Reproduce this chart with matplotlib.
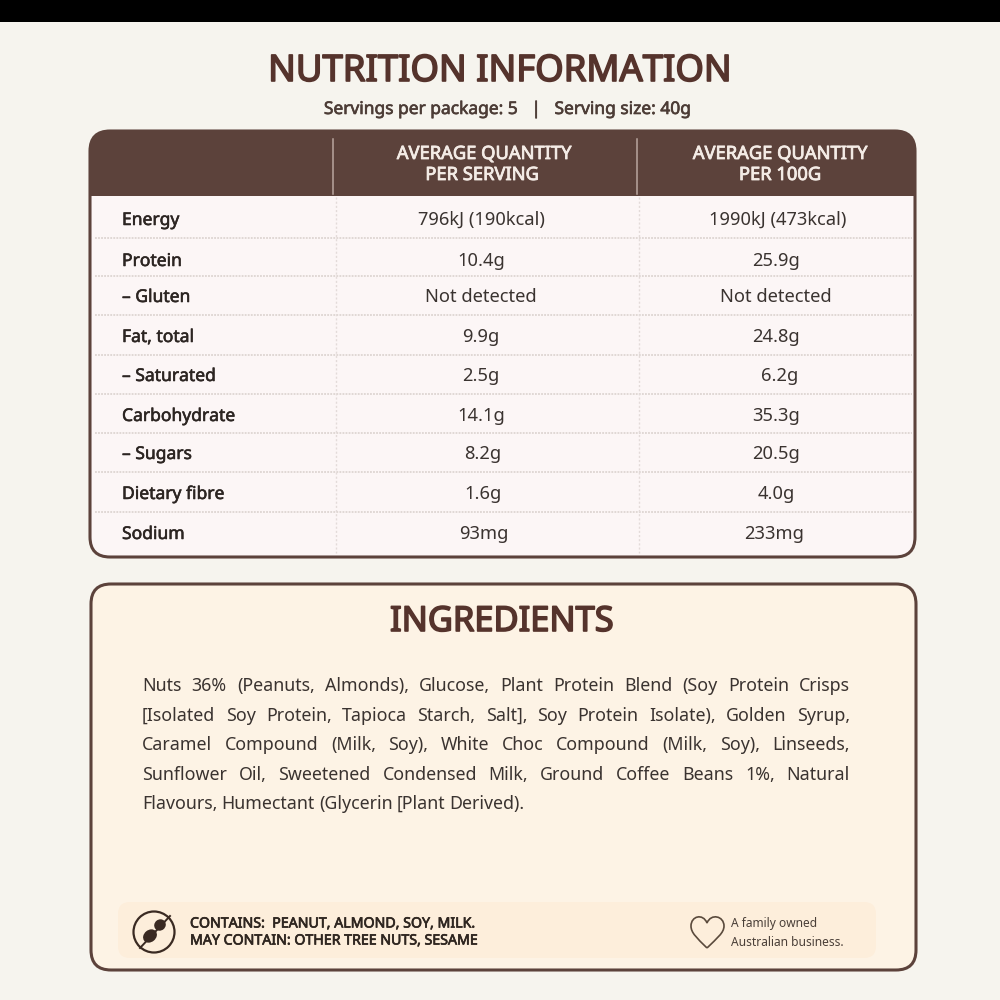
#!/usr/bin/env python3
"""Nutrition information panel, laid out in image pixel coordinates."""
import matplotlib
matplotlib.use("Agg")
import matplotlib.pyplot as plt
import matplotlib.patheffects as pe
from matplotlib.patches import FancyBboxPatch, Rectangle, Circle, Ellipse, PathPatch
from matplotlib.path import Path

plt.rcParams["font.family"] = ["Noto Sans", "DejaVu Sans"]

BROWN = "#5c423b"
TITLE = "#55332c"
INK = "#2c2522"
PAGE = "#f6f4ee"
# Noto Sans only comes in one weight here, so bold text gets a thin outline
HEAVY = [pe.withStroke(linewidth=1.2, foreground=TITLE)]
MEDIUM = [pe.withStroke(linewidth=0.4, foreground=INK)]
LIGHT = [pe.withStroke(linewidth=0.6, foreground="#f4ece6")]

rows = ["Energy", "Protein", "– Gluten", "Fat, total", "– Saturated",
        "Carbohydrate", "– Sugars", "Dietary fibre", "Sodium"]
per_serving = ["796kJ (190kcal)", "10.4g", "Not detected", "9.9g", "2.5g",
               "14.1g", "8.2g", "1.6g", "93mg"]
per_100g = ["1990kJ (473kcal)", "25.9g", "Not detected", "24.8g", "6.2g",
            "35.3g", "20.5g", "4.0g", "233mg"]
ingredient_lines = [
    "Nuts 36% (Peanuts, Almonds), Glucose, Plant Protein Blend (Soy Protein Crisps",
    "[Isolated Soy Protein, Tapioca Starch, Salt], Soy Protein Isolate), Golden Syrup,",
    "Caramel Compound (Milk, Soy), White Choc Compound (Milk, Soy), Linseeds,",
    "Sunflower Oil, Sweetened Condensed Milk, Ground Coffee Beans 1%, Natural",
    "Flavours, Humectant (Glycerin [Plant Derived).",
]

row_y = [220, 261, 297, 337, 376, 416, 454, 494, 534]
rule_y = [238, 276, 315, 355, 394, 433, 472, 512]
serving_x = [481, 481, 481, 481, 481, 481, 483, 483, 484]
hundred_x = [778, 776, 776, 776, 780, 776, 776, 776, 774]
line_y = [686, 716, 745, 775, 804]

fig = plt.figure(figsize=(10, 10), dpi=100, facecolor=PAGE)
ax = fig.add_axes([0, 0, 1, 1])
ax.set_xlim(0, 1000)
ax.set_ylim(1000, 0)
ax.axis("off")


def rounded(x0, y0, x1, y1, r, **kw):
    p = FancyBboxPatch((x0 + r, y0 + r), x1 - x0 - 2 * r, y1 - y0 - 2 * r,
                       boxstyle=f"round,pad={r},rounding_size={r}", **kw)
    ax.add_patch(p)
    return p


def fit_text(x0, x1, y, s, size, **kw):
    """Centre s between x0 and x1, spreading it to that width by font size."""
    t = ax.text((x0 + x1) / 2, y, s, ha="center", va="center", fontsize=size, **kw)
    w = t.get_window_extent(fig.canvas.get_renderer()).width
    t.set_fontsize(size * (x1 - x0) / w)
    return t


# black strip at the top of the screenshot
ax.add_patch(Rectangle((0, 0), 1000, 22, fc="black", ec="none"))

fit_text(268, 731, 72, "NUTRITION INFORMATION", 27, color=TITLE, path_effects=HEAVY)
fit_text(324, 691, 109, "Servings per package: 5   |   Serving size: 40g", 12,
         color="#4c3c36", path_effects=[pe.withStroke(linewidth=0.45, foreground="#4c3c36")])

# nutrition table
card = rounded(90, 131, 915, 557, 20, fc="#fcf6f6", ec=BROWN, lw=2.2, zorder=1)
head = Rectangle((88, 130), 828, 66, fc=BROWN, ec="none", zorder=2)
head.set_clip_path(card)
ax.add_patch(head)
ax.plot([333, 333], [139, 194], color="#b9a69f", lw=1.1, zorder=3)
ax.plot([637, 637], [139, 194], color="#b9a69f", lw=1.1, zorder=3)

for cx, second, x2 in [(484, "PER SERVING", 482), (780, "PER 100G", 780)]:
    ax.text(cx, 154, "AVERAGE QUANTITY", ha="center", va="center", fontsize=13.2,
            color="#f4ece6", path_effects=LIGHT, zorder=4)
    ax.text(x2, 175, second, ha="center", va="center", fontsize=13.2,
            color="#f4ece6", path_effects=LIGHT, zorder=4)

for y in rule_y:
    ax.plot([95, 912], [y, y], color="#d8cfcb", lw=1.1, ls=(0, (1.2, 0.8)), zorder=3)
for x in (336, 639):
    ax.plot([x, x], [197, 553], color="#e3dbd9", lw=1, ls=(0, (1.5, 1.5)), zorder=3)

for name, y, a, xa, b, xb in zip(rows, row_y, per_serving, serving_x, per_100g, hundred_x):
    ax.text(122, y, name, ha="left", va="center", fontsize=12.6, color=INK,
            path_effects=MEDIUM, zorder=4)
    ax.text(xa, y, a, ha="center", va="center", fontsize=13.2, color="#3a3330", zorder=4)
    ax.text(xb, y, b, ha="center", va="center", fontsize=13.2, color="#3a3330", zorder=4)

# ingredients card
rounded(91, 584, 916, 970, 20, fc="#fdf3e5", ec=BROWN, lw=2.2, zorder=1)
fit_text(390, 614, 622, "INGREDIENTS", 25, color=TITLE, path_effects=HEAVY, zorder=4)

# justified paragraph, the last line is left as it is
renderer = fig.canvas.get_renderer()
for i, (line, y) in enumerate(zip(ingredient_lines, line_y)):
    words = line.split(" ")
    items = [ax.text(0, y, w, ha="left", va="center", fontsize=12.8, color="#3a3330", zorder=4)
             for w in words]
    widths = [t.get_window_extent(renderer).width for t in items]
    if i < len(ingredient_lines) - 1:
        gap = (850 - 142 - sum(widths)) / (len(words) - 1)
    else:
        gap = 4.2
    x = 142
    for t, w in zip(items, widths):
        t.set_x(x)
        x += w + gap

# allergen strip
rounded(118, 902, 876, 958, 12, fc="#fdeedb", ec="none", zorder=2)
ax.add_patch(Circle((154, 932), 20.5, fc="none", ec="#3a2a22", lw=1.6, zorder=3))
ax.plot([140, 170], [948, 916], color="#3a2a22", lw=1.4, zorder=3)
ax.add_patch(Ellipse((150, 936), 15, 12, angle=-40, fc="#3a2a22", ec="none", zorder=4))
ax.add_patch(Ellipse((160, 925), 12, 11, angle=-40, fc="#3a2a22", ec="none", zorder=4))
cap_fx = [pe.withStroke(linewidth=0.5, foreground="#2f2620")]
ax.text(190, 924, "CONTAINS:  PEANUT, ALMOND, SOY, MILK.", ha="left", va="center",
        fontsize=10.2, color="#2f2620", path_effects=cap_fx, zorder=4)
ax.text(190, 941, "MAY CONTAIN: OTHER TREE NUTS, SESAME", ha="left", va="center",
        fontsize=10.2, color="#2f2620", path_effects=cap_fx, zorder=4)

heart = Path([(707, 948),
              (697, 938), (691, 933), (691, 926),
              (691, 916), (703, 913), (707, 923),
              (711, 913), (724, 916), (724, 926),
              (724, 933), (717, 938), (707, 948)],
             [Path.MOVETO] + [Path.CURVE4] * 12)
ax.add_patch(PathPatch(heart, fc="none", ec="#5a4a3c", lw=1.2, zorder=4))
ax.text(731, 924, "A family owned", ha="left", va="center", fontsize=8.6, color="#4a3f38", zorder=4)
ax.text(731, 942, "Australian business.", ha="left", va="center", fontsize=8.6, color="#4a3f38", zorder=4)

fig.savefig("out.png", dpi=100, facecolor=fig.get_facecolor())
